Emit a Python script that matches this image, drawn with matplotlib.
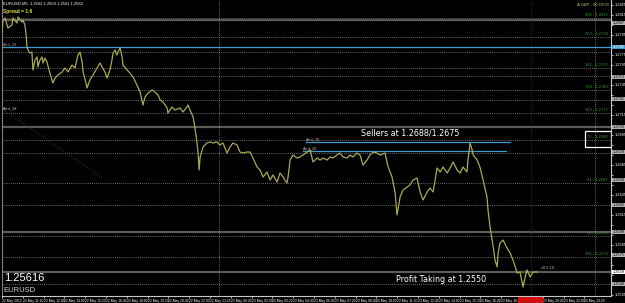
import matplotlib
matplotlib.use("Agg")
from matplotlib import pyplot as plt
from matplotlib.patches import Rectangle
import datetime

plt.rcParams["font.family"] = ["Liberation Sans", "DejaVu Sans"]

# EURUSD M5 closes (minutes after 22 May 10:00)
minutes = [0, 4, 12, 23, 38, 42, 58, 62, 77, 81, 88, 92, 96, 100, 108, 115, 119, 127, 135, 138,
           146, 154, 158, 165, 173, 181, 192, 196, 204, 215, 231, 242, 254, 269, 281, 292, 300, 308, 312, 323,
           327, 338, 350, 365, 377, 385, 396, 404, 415, 423, 427, 435, 442, 446, 454, 462, 465, 481, 492, 504,
           519, 531, 538, 542, 550, 562, 577, 588, 600, 608, 619, 635, 638, 654, 665, 685, 696, 711, 715, 723,
           735, 742, 750, 754, 758, 762, 773, 788, 800, 811, 827, 838, 850, 865, 877, 888, 904, 915, 927, 942,
           954, 965, 981, 992, 1004, 1019, 1031, 1042, 1058, 1069, 1081, 1096, 1100, 1108, 1119, 1135, 1146, 1158, 1173, 1185,
           1196, 1212, 1223, 1235, 1250, 1262, 1273, 1288, 1300, 1312, 1327, 1338, 1350, 1365, 1377, 1388, 1404, 1415, 1427, 1442,
           1454, 1473, 1485, 1500, 1512, 1519, 1531, 1542, 1558, 1569, 1581, 1596, 1608, 1619, 1635, 1646, 1658, 1673, 1685, 1696,
           1712, 1723, 1735, 1750, 1762, 1773, 1788, 1792, 1800, 1808, 1812, 1827, 1838, 1850, 1865, 1869, 1877, 1885, 1889, 1896,
           1904, 1908, 1915, 1927, 1942, 1954, 1965, 1981, 1992, 2004, 2012, 2019, 2031, 2042, 2058]
closes = [1.2798, 1.2810, 1.2812, 1.2802, 1.2805, 1.2812, 1.2807, 1.2813, 1.2808, 1.2810, 1.2805, 1.2797, 1.2783, 1.2780, 1.2777, 1.2778, 1.2760, 1.2770, 1.2773, 1.2763,
          1.2770, 1.2773, 1.2767, 1.2772, 1.2768, 1.2760, 1.2750, 1.2747, 1.2752, 1.2755, 1.2758, 1.2762, 1.2758, 1.2765, 1.2762, 1.2775, 1.2778, 1.2768, 1.2758, 1.2747,
          1.2742, 1.2750, 1.2755, 1.2762, 1.2767, 1.2763, 1.2758, 1.2752, 1.2760, 1.2770, 1.2777, 1.2780, 1.2775, 1.2778, 1.2782, 1.2773, 1.2765, 1.2760, 1.2757, 1.2753,
          1.2745, 1.2738, 1.2730, 1.2725, 1.2733, 1.2737, 1.2740, 1.2738, 1.2735, 1.2730, 1.2728, 1.2722, 1.2717, 1.2723, 1.2720, 1.2722, 1.2718, 1.2723, 1.2725, 1.2720,
          1.2713, 1.2702, 1.2687, 1.2677, 1.2660, 1.2673, 1.2683, 1.2687, 1.2688, 1.2687, 1.2688, 1.2685, 1.2687, 1.2677, 1.2683, 1.2687, 1.2685, 1.2678, 1.2677, 1.2678,
          1.2678, 1.2672, 1.2663, 1.2660, 1.2653, 1.2658, 1.2650, 1.2655, 1.2648, 1.2657, 1.2653, 1.2647, 1.2653, 1.2670, 1.2675, 1.2672, 1.2673, 1.2675, 1.2678, 1.2680,
          1.2668, 1.2672, 1.2670, 1.2672, 1.2670, 1.2673, 1.2672, 1.2675, 1.2677, 1.2673, 1.2672, 1.2675, 1.2673, 1.2677, 1.2675, 1.2665, 1.2670, 1.2675, 1.2678, 1.2677,
          1.2675, 1.2677, 1.2663, 1.2653, 1.2637, 1.2615, 1.2633, 1.2640, 1.2643, 1.2645, 1.2650, 1.2652, 1.2638, 1.2630, 1.2638, 1.2642, 1.2638, 1.2662, 1.2658, 1.2663,
          1.2657, 1.2662, 1.2668, 1.2660, 1.2657, 1.2663, 1.2658, 1.2670, 1.2687, 1.2680, 1.2675, 1.2670, 1.2663, 1.2650, 1.2633, 1.2620, 1.2603, 1.2590, 1.2583, 1.2570,
          1.2563, 1.2577, 1.2587, 1.2590, 1.2582, 1.2577, 1.2570, 1.2557, 1.2558, 1.2543, 1.2553, 1.2560, 1.2553, 1.2558, 1.2558]

# horizontal objects on the chart
solid_levels = [1.2810, 1.2703, 1.2598, 1.2558]
dotted_levels = [1.2778, 1.2754, 1.2730, 1.2677, 1.2625, 1.2546]
fibo_levels = [1.2812, 1.2793, 1.2762, 1.2740, 1.2717, 1.2690, 1.2647, 1.2594, 1.2573]
fibo_names = ["261", "200", "161", "138", "100", "76", "61", "38", "161"]
alert_level = 1.2783
seller_levels = [1.2688, 1.2679]
seller_start = [1169, 1158]
seller_end = [1954, 1938]
trend_minutes = [12, 388]
trend_prices = [1.2719, 1.2652]
separators = [835, 2281]
now_minute = 2035
box_levels = [1.2807, 1.2753, 1.2731, 1.2703, 1.2678, 1.2650, 1.2625, 1.2598, 1.2575, 1.2546]
last_price = 1.2558

price_ticks = [round(1.2825 - 0.001 * i, 4) for i in range(30)]
time_ticks = list(range(0, 2300, 80))
start = datetime.datetime(2012, 5, 22, 10, 0)

W, H = 625, 303
fig = plt.figure(figsize=(6.25, 3.03), dpi=100, facecolor="black")
ax = fig.add_axes([2 / W, 7 / H, 609 / W, 296 / H], facecolor="black")
ax.set_xlim(0, 2342)
ax.set_ylim(1.2534, 1.2830)

# grid of levels
for p in dotted_levels + fibo_levels:
    ax.axhline(p, color="#8a8a8a", linestyle=(0, (1, 1.5)), linewidth=0.6, zorder=1)
for p in solid_levels:
    ax.axhline(p, color="#5a5a5a", linewidth=1.6, zorder=1)
for m in separators:
    ax.axvline(m, color="#8a8a8a", linestyle=(0, (1, 1.5)), linewidth=0.6, zorder=1)
ax.axvline(now_minute, color="#8a1818", linestyle=(0, (1, 1.5)), linewidth=0.6, zorder=1)

# fibo labels (green, right side)
for p, n in zip(fibo_levels, fibo_names):
    ax.text(2330, p + 0.00008, f"{n} - {p:.4f}", color="#3f8f3f", fontsize=3.0,
            ha="right", va="bottom", zorder=3)

# alert lines
ax.axhline(alert_level, color="#3a9fd0", linewidth=0.9, zorder=2)
ax.text(4, alert_level + 0.0001, "Alert_20", color="#a0a0a0", fontsize=2.8, va="bottom")
for p, s, e in zip(seller_levels, seller_start, seller_end):
    ax.plot([s, e], [p, p], color="#3a9fd0", linewidth=0.9, zorder=2)
    ax.text(s, p + 0.0001, "Alert_20", color="#c0c0c0", fontsize=2.8, va="bottom")
ax.plot(trend_minutes, trend_prices, color="#8a1818", linestyle=(0, (1, 1.5)), linewidth=0.7, zorder=2)
ax.text(4, trend_prices[0] + 0.0001, "Alert_18", color="#d0d0d0", fontsize=2.8, va="bottom")

# price
ax.plot(minutes, closes, color="#a9a955", linewidth=0.9, zorder=4)
ax.text(minutes[-1] + 15, closes[-1] + 0.0002, "x0.6 10", color="#c0c0c0", fontsize=2.8, va="bottom")

# annotations
ax.text(408 / 609, 1 - 133 / 296, "Sellers at 1.2688/1.2675", transform=ax.transAxes, family="DejaVu Sans",
        color="white", fontsize=5.8, ha="center", va="center", zorder=5)
ax.text(439 / 609, 1 - 279 / 296, "Profit Taking at 1.2550", transform=ax.transAxes, family="DejaVu Sans",
        color="white", fontsize=5.8, ha="center", va="center", zorder=5)
ax.add_patch(Rectangle((583 / 609, 1 - 147 / 296), 26 / 609, 16 / 296, transform=ax.transAxes,
                       fill=False, edgecolor="white", linewidth=0.9, zorder=5))

# axes styling
ax.spines["top"].set_visible(False)
ax.spines["left"].set_color("#808080")
ax.spines["right"].set_color("#c8c8c8")
ax.spines["bottom"].set_color("#c8c8c8")
for s in ax.spines.values():
    s.set_linewidth(0.8)

# price scale: leave out plain labels where a line label sits
marked = box_levels + [alert_level, last_price]
tick_labels = []
for p in price_ticks:
    near = min(abs(p - b) for b in marked) < 0.0007
    tick_labels.append("" if near else f"{p:.4f}")
ax.yaxis.tick_right()
ax.set_yticks(price_ticks)
ax.set_yticklabels(tick_labels)
ax.tick_params(axis="y", colors="white", labelsize=2.8, length=1.5, width=0.5, pad=0.8)

labels = []
for m in time_ticks:
    t = start + datetime.timedelta(minutes=m)
    labels.append("22 May 2012" if m == 0 else t.strftime("%d %b %H:%M"))
ax.set_xticks(time_ticks)
ax.set_xticklabels(labels, ha="left")
ax.tick_params(axis="x", colors="white", labelsize=2.4, length=1.5, width=0.5, pad=0.5)

# price labels of the lines on the right scale
ytr = ax.get_yaxis_transform()
for p in box_levels:
    ax.text(1.003, p, f"{p:.4f}", transform=ytr, fontsize=2.8, color="black", ha="left", va="center",
            bbox=dict(boxstyle="square,pad=0.1", facecolor="#b0b0b0", edgecolor="none"), clip_on=False)
ax.text(1.003, alert_level, f"{alert_level:.4f}", transform=ytr, fontsize=2.8, color="white", ha="left",
        va="center", bbox=dict(boxstyle="square,pad=0.1", facecolor="#3a9fd0", edgecolor="none"), clip_on=False)
ax.text(1.003, last_price, f"{last_price:.4f}", transform=ytr, fontsize=2.8, color="black", ha="left",
        va="center", bbox=dict(boxstyle="square,pad=0.1", facecolor="white", edgecolor="none"), clip_on=False)

# current bar marker on time scale
fig.patches.append(Rectangle((518 / W, 0), 25 / W, 6 / H, transform=fig.transFigure,
                             facecolor="#d01010", edgecolor="none"))

# header texts
fig.text(3 / W, 1 - 4 / H, "EURUSD,M5  1.2562 1.2563 1.2561 1.2562", color="white", fontsize=3.0, va="center")
fig.text(3 / W, 1 - 11 / H, "Spread = 1.6", color="#e0e040", fontsize=3.5, fontweight="bold", va="center")
fig.text(609 / W, 1 - 5 / H, "A GBP - 00:59:55", color="#c0c060", fontsize=3.0, ha="right", va="center")
fig.text(4 / W, 1 - 278 / H, "1.25616", color="white", fontsize=8, va="center")
fig.text(3 / W, 1 - 291 / H, "EURUSD", color="#d0d0d0", fontsize=5.5, va="center")

fig.savefig("out.png", dpi=100, facecolor="black")
